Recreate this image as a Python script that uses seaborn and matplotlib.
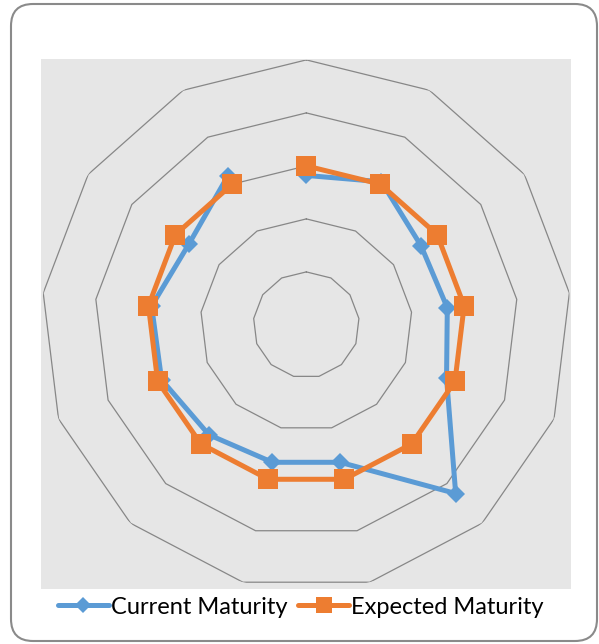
import numpy as np
import pandas as pd
import seaborn as sns
import matplotlib.pyplot as plt
from matplotlib.lines import Line2D
from matplotlib.patches import FancyBboxPatch

# 13 axes, unlabeled in the original, first one at the top, clockwise
axis_ids = list(range(1, 14))
current_maturity = [2.82, 3.05, 2.63, 2.68, 2.83, 4.25, 2.67, 2.67, 2.77, 2.92, 2.94, 2.69, 3.18]
expected_maturity = [3.0, 3.0, 3.0, 3.0, 3.0, 3.0, 3.0, 3.0, 3.0, 3.0, 3.0, 3.0, 3.0]
ring_levels = [1, 2, 3, 4, 5]
series_names = ["Current Maturity", "Expected Maturity"]

blue = "#5B9BD5"
orange = "#ED7D31"
grid_gray = "#878787"

sns.set_theme(style="white")
plt.rcParams['font.family'] = ['Lato', 'DejaVu Sans']

n = len(axis_ids)
theta = np.linspace(0, 2 * np.pi, n, endpoint=False)
theta_closed = np.append(theta, theta[0])


def closed(values):
    return np.append(values, values[0])


df = pd.DataFrame({
    "theta": np.concatenate([theta_closed, theta_closed]),
    "value": np.concatenate([closed(current_maturity), closed(expected_maturity)]),
    "series": [series_names[0]] * (n + 1) + [series_names[1]] * (n + 1),
})

W, H = 599, 644
fig = plt.figure(figsize=(W / 100, H / 100), dpi=100)

# outer rounded border
border = FancyBboxPatch((0.11, 0.03), 5.86, 6.37,
                        boxstyle="round,pad=0,rounding_size=0.22",
                        transform=fig.dpi_scale_trans,
                        facecolor="white", edgecolor="#8a8a8a", linewidth=1.5,
                        zorder=-10)
fig.add_artist(border)

# gray plot area
bg = fig.add_axes([41 / W, 1 - 589 / H, 530 / W, 530 / H])
bg.set_facecolor("#e6e6e6")
bg.set_xticks([])
bg.set_yticks([])
for s in bg.spines.values():
    s.set_visible(False)

# radar axes
cx, cy, rad = 306.3, 324.9, 265
ax = fig.add_axes([(cx - rad) / W, 1 - (cy + rad) / H, 2 * rad / W, 2 * rad / H],
                  projection="polar")
ax.set_facecolor("none")
ax.set_theta_zero_location("N")
ax.set_theta_direction(-1)
ax.grid(False)
ax.spines["polar"].set_visible(False)

for lvl in ring_levels:
    ax.plot(theta_closed, [lvl] * (n + 1), color=grid_gray, lw=0.9, zorder=1)

cur = df[df["series"] == series_names[0]]
exp = df[df["series"] == series_names[1]]
sns.lineplot(data=cur, x="theta", y="value", sort=False, ax=ax, color=blue,
             lw=3.6, marker="D", markersize=9.5, markeredgewidth=0, zorder=3)
sns.lineplot(data=exp, x="theta", y="value", sort=False, ax=ax, color=orange,
             lw=3.6, marker="s", markersize=14, markeredgewidth=0, zorder=4)
ax.set_xlabel("")
ax.set_ylabel("")
ax.set_xticks([])
ax.set_yticks([])
ax.set_ylim(0, 5)

handles = [
    Line2D([], [], color=blue, lw=3.6, marker="D", markersize=8.5, markeredgewidth=0),
    Line2D([], [], color=orange, lw=3.6, marker="s", markersize=12, markeredgewidth=0),
]
fig.legend(handles, series_names, loc="center", bbox_to_anchor=(301 / W, 1 - 607 / H),
           ncol=2, frameon=False, fontsize=17, handlelength=2.15, handletextpad=0.1,
           columnspacing=0.45, borderaxespad=0, labelcolor="black")

fig.savefig("out.png", dpi=100)
